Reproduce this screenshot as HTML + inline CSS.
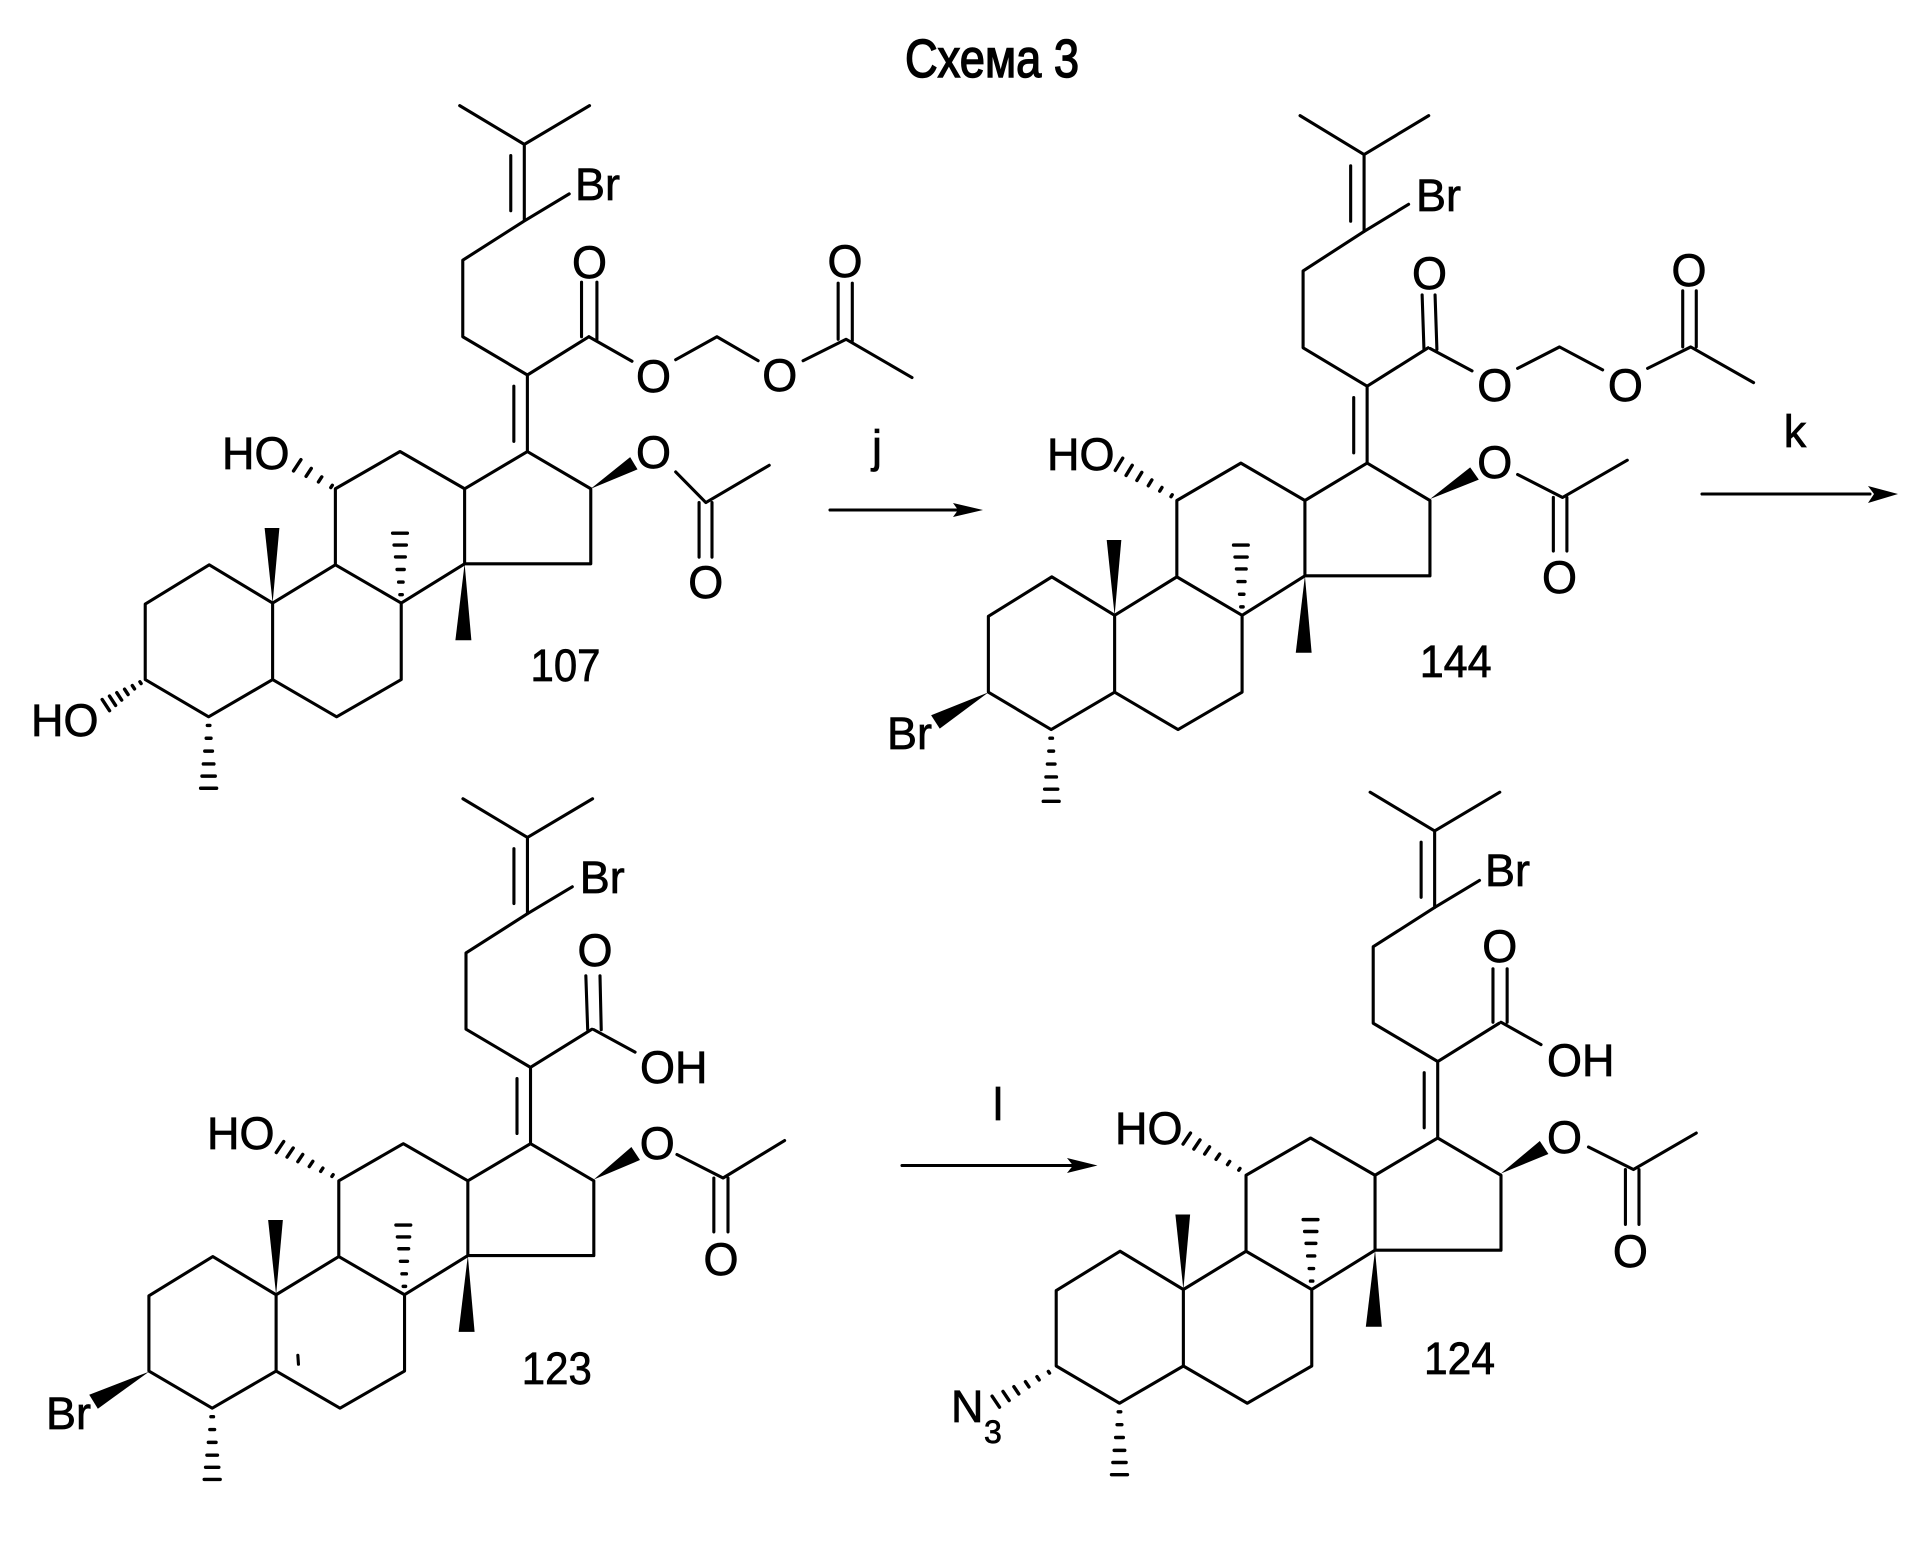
<!DOCTYPE html>
<html>
<head>
<meta charset="utf-8">
<style>
html,body{margin:0;padding:0;background:#fff;}
svg{display:block;}
text{font-family:"Liberation Sans",sans-serif;font-size:45px;fill:#000;stroke:#000;stroke-width:.7px;}
.o{text-anchor:middle;}
path{vector-effect:non-scaling-stroke;}
</style>
</head>
<body>
<svg xmlns="http://www.w3.org/2000/svg" xmlns:xlink="http://www.w3.org/1999/xlink" width="1931" height="1563" viewBox="0 0 1931 1563">
<rect width="1931" height="1563" fill="#fff"/>
<defs>
<path id="h" vector-effect="non-scaling-stroke" stroke-width="3.4" d="M.12 -.16V.16M.3 -.3V.3M.48 -.48V.48M.66 -.66V.66M.83 -.83V.83M1 -1V1"/>
<path id="h4" vector-effect="non-scaling-stroke" stroke-width="3.4" d="M.1 -.2V.2M.4 -.45V.45M.7 -.7V.7M1 -1V1"/>
<polygon id="w" points="0,0 1,-1 1,1" fill="#000" stroke="none"/>
<g id="c">
<path vector-effect="non-scaling-stroke" d="M747 207L852 283L958 207M852 283V433M830 305V413M852 433L925 380M852 433L752 510V660L857 735M857 735V885M835 757V865M857 735L957 660M857 885L960 958V1105L755 1105V958L857 885M755 958L650 885L545 958V1107L652 1182L755 1105M545 1107L443 1182V1332L547 1405L652 1332V1182M443 1182L340 1107L236 1184V1332L339 1405L443 1332"/>
<use xlink:href="#w" href="#w" transform="matrix(-1,-147,12,0,443,1182)"/>
<use xlink:href="#w" href="#w" transform="matrix(-2,150,13,0,755,1105)"/>
<use xlink:href="#h" href="#h" transform="matrix(-2,-137,12,0,652,1182)"/>
<use xlink:href="#h" href="#h" transform="matrix(0,140,13,0,339,1405)"/>
</g>
</defs>

<g fill="none" stroke="#000" stroke-width="3.1" stroke-linejoin="round" stroke-linecap="round">
<!-- 107 -->
<g transform="scale(.61538,.5102)">
<use href="#c"/>
<path vector-effect="non-scaling-stroke" d="M945 553V660M970 553V665M957 660L1027 708M1098 705L1165 660L1232 707M1305 707L1375 665L1482 740M1362 555V665M1385 555V668M1098 925L1147 985L1250 912M1136 985V1092M1157 985V1092"/>
<use href="#w" transform="matrix(70,-50,6,12,960,958)"/>
<use href="#h4" transform="matrix(-62,-46,6,-11,545,958)"/>
<use href="#h" transform="matrix(-64,50,6,11,236,1332)"/>
</g>
<!-- 144 -->
<g transform="translate(965,0) scale(.61607,.5102)">
<use href="#c" transform="matrix(.99,0,0,1.0045,-195.7,18.7)"/>
<path vector-effect="non-scaling-stroke" d="M742 578L745 685M763 578L766 685M755 683L823 727M897 722L965 680L1035 725M1108 722L1178 680L1280 750M1165 570V680M1187 570V680M897 930L970 975L1075 902M955 975V1080M977 975V1080"/>
<use href="#w" transform="matrix(72,-50,7,12,755,978)"/>
<use href="#h" transform="matrix(-97,-70,6,-12,347,980)"/>
<use href="#w" transform="matrix(-86,58,7,13,38,1357)"/>
</g>
<!-- 123 -->
<g transform="translate(0,780) scale(.61538,.49936)">
<use href="#c" transform="matrix(.9986,0,0,1.0187,6.3,-173.3)"/>
<path vector-effect="non-scaling-stroke" d="M952 392L955 500M975 392L977 500M965 500L1032 545M1100 750L1175 797L1275 722M1160 797V905M1183 797V905M484 1152L485 1170"/>
<use href="#w" transform="matrix(68,-52,7,13,965,800)"/>
<use href="#h" transform="matrix(-97,-65,6,-11,552,800)"/>
<use href="#w" transform="matrix(-90,60,7,14,242,1185)"/>
</g>
<!-- 124 -->
<g transform="translate(965,780) scale(.61607,.49936)">
<use href="#c" transform="matrix(.9972,0,0,1.0214,-87.3,-187)"/>
<path vector-effect="non-scaling-stroke" d="M857 378V485M880 378V485M870 485L935 530M1012 735L1085 780L1187 707M1072 780V890M1094 780V890"/>
<use href="#w" transform="matrix(70,-52,7,13,870,788)"/>
<use href="#h" transform="matrix(-97,-70,6,-11,457,788)"/>
<use href="#h" transform="matrix(-98,67,6,11,148,1178)"/>
</g>
<!-- arrows -->
<path d="M830 510H960M1702 494H1870M902 1165.5H1075"/>
</g>
<polygon points="983,510 953,503 958,510 953,517" fill="#000"/>
<polygon points="1898,494 1868,486 1874,494 1868,503" fill="#000"/>
<polygon points="1097.5,1165.5 1067,1158 1073,1165.5 1067,1173" fill="#000"/>

<!-- title -->
<text x="905" y="77" textLength="174" lengthAdjust="spacingAndGlyphs" style="font-size:54px;stroke-width:1.5px;">Схема 3</text>

<!-- 107 labels -->
<text x="575" y="200">Br</text>
<text class="o" x="589.5" y="278">O</text>
<text class="o" x="653.5" y="392">O</text>
<text class="o" x="779.7" y="391">O</text>
<text class="o" x="845" y="277">O</text>
<text class="o" x="653.5" y="468">O</text>
<text class="o" x="705.8" y="598">O</text>
<text x="222" y="469">HO</text>
<text x="31" y="736">HO</text>
<text x="530.5" y="681" textLength="70" lengthAdjust="spacingAndGlyphs">107</text>
<text class="o" x="877" y="462">j</text>

<!-- 144 labels -->
<text x="1416" y="211">Br</text>
<text class="o" x="1429.5" y="289">O</text>
<text class="o" x="1494.8" y="401">O</text>
<text class="o" x="1625.4" y="401">O</text>
<text class="o" x="1689" y="286">O</text>
<text class="o" x="1494.8" y="478">O</text>
<text class="o" x="1559.5" y="593">O</text>
<text x="1047" y="470">HO</text>
<text x="887" y="749">Br</text>
<text x="1419.7" y="677" textLength="72" lengthAdjust="spacingAndGlyphs">144</text>
<text class="o" x="1795" y="447">k</text>

<!-- 123 labels -->
<text x="579.7" y="893">Br</text>
<text class="o" x="595" y="966">O</text>
<text x="640" y="1083">OH</text>
<text class="o" x="657.2" y="1159">O</text>
<text class="o" x="721" y="1275">O</text>
<text x="207" y="1149">HO</text>
<text x="46" y="1429">Br</text>
<text x="521.8" y="1384" textLength="70" lengthAdjust="spacingAndGlyphs">123</text>
<text class="o" x="998" y="1120">l</text>

<!-- 124 labels -->
<text x="1485" y="886">Br</text>
<text class="o" x="1499.8" y="962">O</text>
<text x="1547" y="1076">OH</text>
<text class="o" x="1564.5" y="1153">O</text>
<text class="o" x="1630.4" y="1267">O</text>
<text x="1115" y="1144">HO</text>
<text x="1424" y="1374" textLength="71" lengthAdjust="spacingAndGlyphs">124</text>
<text x="951" y="1422">N</text>
<text x="984" y="1443" style="font-size:32px">3</text>
</svg>
</body>
</html>
